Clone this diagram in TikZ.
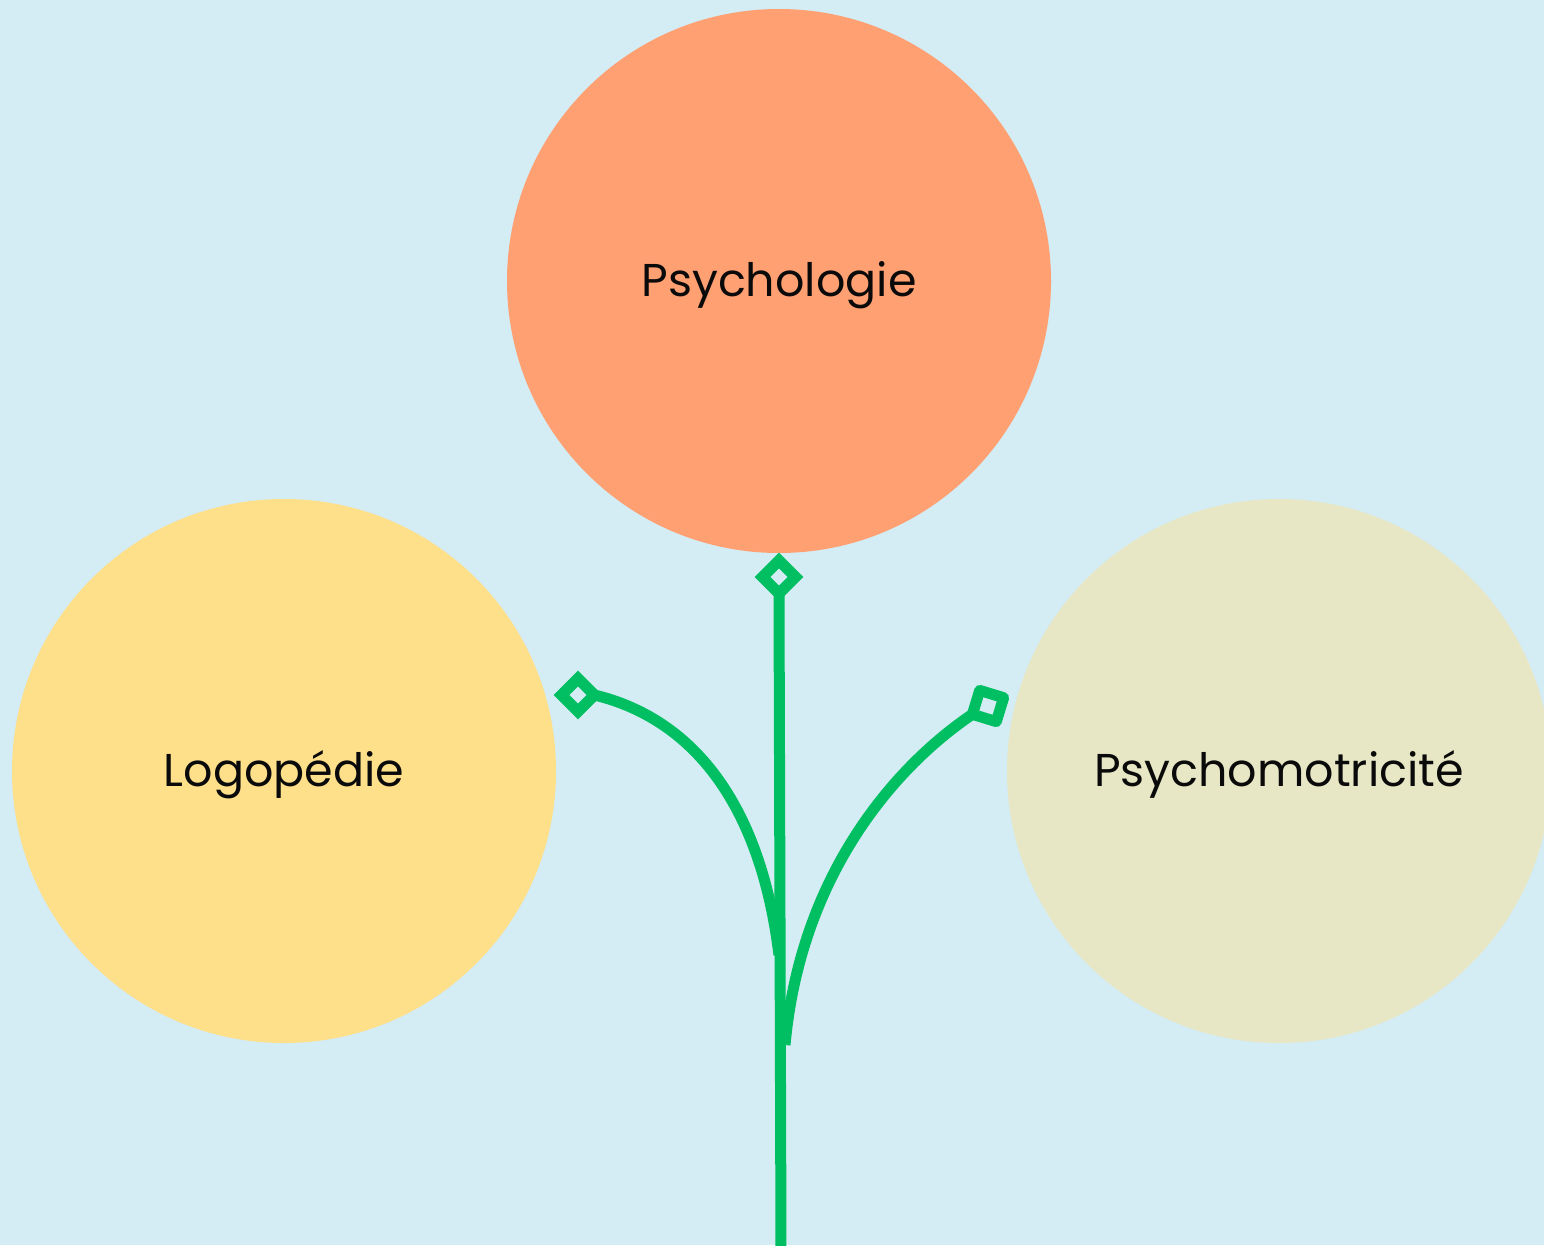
\documentclass[tikz,border=0pt]{standalone}
\usepackage{fontspec}
\setmainfont{Poppins}
\usetikzlibrary{shapes.geometric}
\definecolor{bgblue}{HTML}{D4ECF4}
\definecolor{orangec}{HTML}{FFA072}
\definecolor{yellowc}{HTML}{FEDF8A}
\definecolor{beigec}{HTML}{E7E7C5}
\definecolor{greenc}{HTML}{00BF63}
\definecolor{textc}{HTML}{0A0A0A}
\tikzset{
  bubble/.style={circle, minimum size=544pt, inner sep=0pt, text=textc, font=\fontsize{46}{54}\selectfont, text height=30pt, text depth=0pt},
  knot/.style={diamond, aspect=1, minimum width=33pt, minimum height=33pt, inner sep=0pt, outer sep=0pt, draw=greenc, line width=11pt, line join=miter},
  sqknot/.style={rectangle, minimum size=25pt, inner sep=0pt, outer sep=0pt, draw=greenc, line width=11pt, line join=round},
  branch/.style={draw=greenc, line width=11pt}
}
\begin{document}
\begin{tikzpicture}[x=1pt,y=-1pt]
\fill[bgblue] (0,0) rectangle (1544,1245);
\useasboundingbox (0,0) rectangle (1544,1245);
\node[bubble, fill=orangec] (psy) at (779,281) {Psychologie};
\node[bubble, fill=yellowc] (logo) at (284,771) {Logopédie};
\node[bubble, fill=beigec] (motr) at (1279,771) {Psychomotricité};
\coordinate (stemend) at (781,1250);
\coordinate (jleft) at (779,955);
\coordinate (jright) at (785,1045);
\node[knot] (ktop) at (779,577) {};
\node[knot] (kleft) at (578,695) {};
\node[sqknot, rotate=-17] (kright) at (988,706) {};
\draw[branch] (ktop.south) -- (stemend);
\draw[branch] (kleft.east) .. controls (690,718) and (760,800) .. (jleft);
\draw[branch] (kright.south west) .. controls (890,770) and (800,880) .. (jright);
\end{tikzpicture}
\end{document}
